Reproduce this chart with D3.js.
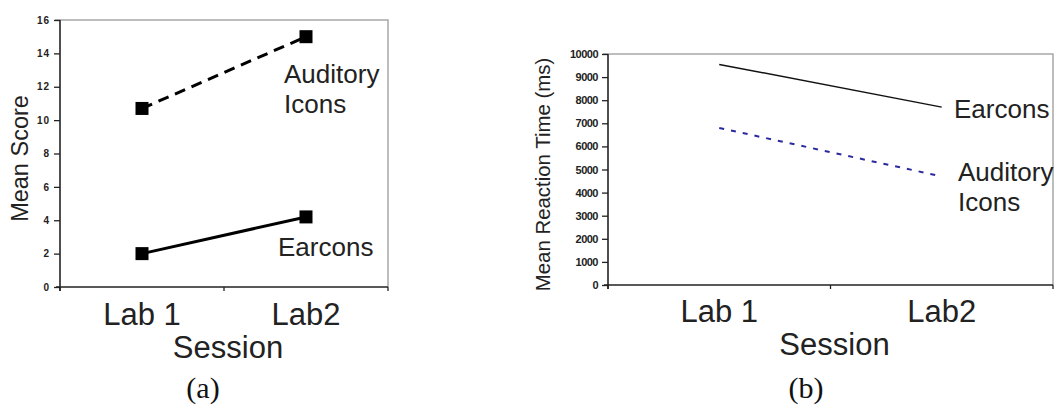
<!DOCTYPE html>
<html>
<head>
    <meta charset="utf-8" />
    <title>Mean score and reaction time by session</title>
    <style>
        body { margin: 0; background: #fff; overflow: hidden; }
        svg { display: block; }
        .lbl { font-family: "Liberation Sans", Arial, sans-serif; fill: #222; }
        .tick-lbl { font-family: "Liberation Sans", Arial, sans-serif; font-weight: bold; fill: #222; }
        .cap { font-family: "Liberation Serif", "Times New Roman", serif; fill: #111; }
    </style>
</head>
<body>
    <div id="chart"></div>
    <script src="https://d3js.org/d3.v7.min.js"></script>
    <script>
        // data
        var sessions = ["Lab 1", "Lab2"];
        var scoreEarcons = [2.0, 4.2];
        var scoreAuditory = [10.7, 15.0];
        var scoreTicks = [0, 2, 4, 6, 8, 10, 12, 14, 16];
        var rtEarcons = [9550, 7700];
        var rtAuditory = [6800, 4700];
        var rtTicks = [0, 1000, 2000, 3000, 4000, 5000, 6000, 7000, 8000, 9000, 10000];

        var svg = d3.select("#chart").append("svg")
            .attr("width", 1056)
            .attr("height", 408);

        // draws one of the two panels
        function drawPanel(opt) {
            var x = d3.scaleBand().domain(sessions).range([opt.left, opt.right]).padding(0);
            var y = d3.scaleLinear().domain(opt.domain).range([opt.bottom, opt.top]);
            var g = svg.append("g");

            // grey frame on top and right
            g.append("path")
                .attr("d", `M${opt.left - 5},${opt.top}H${opt.right}V${opt.bottom}`)
                .attr("fill", "none")
                .attr("stroke", "#a8a8a8")
                .attr("stroke-width", 1.5);

            // y axis
            var yAxis = d3.axisLeft(y).tickValues(opt.ticks).tickFormat(d3.format("d"))
                .tickSize(6).tickPadding(4);
            var ya = g.append("g")
                .attr("transform", `translate(${opt.left},0)`)
                .call(yAxis);
            ya.select(".domain").attr("stroke", "#222").attr("stroke-width", 1.6)
                .attr("d", `M0,${opt.top}V${opt.bottom + 4}`);
            ya.selectAll(".tick line").attr("stroke", "#222").attr("stroke-width", 1.3);
            ya.selectAll(".tick text")
                .attr("class", "tick-lbl")
                .style("font-size", opt.tickFont + "px")
                .style("letter-spacing", opt.tickSpacing + "px")
                .attr("fill", "#222");

            // x axis: ticks at band edges
            g.append("line")
                .attr("x1", opt.left - 4).attr("x2", opt.right)
                .attr("y1", opt.bottom).attr("y2", opt.bottom)
                .attr("stroke", "#222").attr("stroke-width", 1.6);
            var edges = sessions.map(s => x(s)).concat([opt.right]);
            g.selectAll("line.edge")
                .data(edges)
                .join("line")
                .attr("class", "edge")
                .attr("x1", d => d).attr("x2", d => d)
                .attr("y1", opt.bottom).attr("y2", opt.bottom + 4)
                .attr("stroke", "#222").attr("stroke-width", 1.3);

            g.selectAll("text.xlab")
                .data(sessions)
                .join("text")
                .attr("class", "lbl xlab")
                .attr("x", d => x(d) + x.bandwidth() / 2)
                .attr("y", opt.labY)
                .attr("text-anchor", "middle")
                .style("font-size", "31px")
                .text(d => d);

            g.append("text")
                .attr("class", "lbl")
                .attr("x", (opt.left + opt.right) / 2 + 4)
                .attr("y", opt.labY + 33)
                .attr("text-anchor", "middle")
                .style("font-size", "31px")
                .text("Session");

            g.append("text")
                .attr("class", "lbl")
                .attr("transform", `translate(${opt.yTitleX},${(opt.top + opt.bottom) / 2 + 5}) rotate(-90)`)
                .attr("text-anchor", "middle")
                .style("font-size", opt.yTitleFont + "px")
                .text(opt.yTitle);

            g.append("text")
                .attr("class", "cap")
                .attr("x", opt.capX)
                .attr("y", 398)
                .attr("text-anchor", "middle")
                .style("font-size", "30px")
                .text(opt.caption);

            var line = d3.line()
                .x((d, i) => x(sessions[i]) + x.bandwidth() / 2)
                .y(d => y(d));

            opt.series.forEach(function (s) {
                g.append("path")
                    .datum(s.values)
                    .attr("d", line)
                    .attr("fill", "none")
                    .attr("stroke", s.color)
                    .attr("stroke-width", s.width)
                    .attr("stroke-dasharray", s.dash);
                if (s.marker) {
                    g.selectAll(null)
                        .data(s.values)
                        .join("rect")
                        .attr("x", (d, i) => x(sessions[i]) + x.bandwidth() / 2 - 6.5)
                        .attr("y", d => y(d) - 6.5)
                        .attr("width", 13)
                        .attr("height", 13)
                        .attr("fill", "#000");
                }
                s.label.forEach(function (t, k) {
                    g.append("text")
                        .attr("class", "lbl")
                        .attr("x", s.labelX)
                        .attr("y", s.labelY + k * 30)
                        .style("font-size", "26px")
                        .text(t);
                });
            });
        }

        drawPanel({
            left: 60, right: 388, top: 20, bottom: 287,
            domain: [0, 16], ticks: scoreTicks,
            tickFont: 10, tickSpacing: 1,
            labY: 325, yTitle: "Mean Score", yTitleX: 28, yTitleFont: 23.5,
            caption: "(a)", capX: 203,
            series: [
                { values: scoreAuditory, color: "#000", width: 3, dash: "11,7", marker: true,
                  label: ["Auditory", "Icons"], labelX: 284, labelY: 83 },
                { values: scoreEarcons, color: "#000", width: 3, dash: null, marker: true,
                  label: ["Earcons"], labelX: 278, labelY: 256 }
            ]
        });

        drawPanel({
            left: 608, right: 1053, top: 54, bottom: 285,
            domain: [0, 10000], ticks: rtTicks,
            tickFont: 11, tickSpacing: -0.5,
            labY: 322, yTitle: "Mean Reaction Time (ms)", yTitleX: 550, yTitleFont: 20.4,
            caption: "(b)", capX: 806,
            series: [
                { values: rtEarcons, color: "#111", width: 1.5, dash: null, marker: false,
                  label: ["Earcons"], labelX: 954, labelY: 118 },
                { values: rtAuditory, color: "#2a2aa0", width: 2, dash: "5,7", marker: false,
                  label: ["Auditory", "Icons"], labelX: 958, labelY: 181 }
            ]
        });
    </script>
</body>
</html>
